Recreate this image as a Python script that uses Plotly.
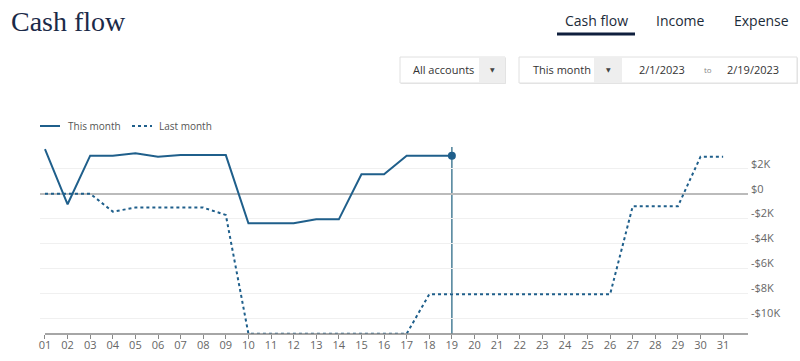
import plotly.graph_objects as go

days = list(range(1, 32))
day_labels = [f"{d:02d}" for d in days]

this_month_days = list(range(1, 20))
this_month = [3570, -850, 3050, 3050, 3240, 2970, 3100, 3100, 3100,
              -2380, -2380, -2380, -2060, -2060, 1560, 1560, 3050, 3050, 3050]

last_month = [0, 0, 0, -1440, -1120, -1120, -1120, -1120, -1710,
              -11250, -11250, -11250, -11250, -11250, -11250, -11250, -11250,
              -8080, -8080, -8080, -8080, -8080, -8080, -8080, -8080, -8080,
              -1010, -1010, -1010, 2970, 2970]

y_tickvals = [2000, 0, -2000, -4000, -6000, -8000, -10000]
y_ticktext = ["$2K", "$0", "-$2K", "-$4K", "-$6K", "-$8K", "-$10K"]

LINE = "#1f5f8b"
W, H = 800, 361
ML, MR, MT, MB = 40, 52, 144, 27
PW, PH = W - ML - MR, H - MT - MB


def px(x):
    return (x - ML) / PW


def py(y):
    return (H - MB - y) / PH


fig = go.Figure()
fig.add_trace(go.Scatter(x=days, y=last_month, mode="lines", name="Last month",
                         line=dict(color=LINE, width=2, dash="dot"), showlegend=False))
fig.add_trace(go.Scatter(x=this_month_days, y=this_month, mode="lines", name="This month",
                         line=dict(color=LINE, width=2), showlegend=False))
fig.add_trace(go.Scatter(x=[this_month_days[-1]], y=[this_month[-1]], mode="markers",
                         marker=dict(color=LINE, size=8), showlegend=False))

shapes = []
annotations = []

# crosshair
shapes.append(dict(type="line", xref="x", yref="paper", x0=this_month_days[-1], x1=this_month_days[-1],
                   y0=0, y1=py(147), line=dict(color="#4a7f98", width=1.5), layer="below"))
# x axis line
shapes.append(dict(type="line", xref="x", yref="paper", x0=1, x1=32.1, y0=0, y1=0,
                   line=dict(color="#888", width=1.5)))

# title
annotations.append(dict(text="Cash flow", xref="paper", yref="paper", x=px(9), y=py(21),
                        xanchor="left", yanchor="middle", showarrow=False,
                        font=dict(family="Liberation Serif", size=28, color="#1b2a48")))
# tabs
for t, cx in [("Cash flow", 596), ("Income", 680), ("Expense", 761)]:
    annotations.append(dict(text=t, xref="paper", yref="paper", x=px(cx), y=py(20),
                            xanchor="center", yanchor="middle", showarrow=False,
                            font=dict(family="Open Sans", size=14, color="#1c2b39")))
shapes.append(dict(type="line", xref="paper", yref="paper", x0=px(557), x1=px(635),
                   y0=py(34), y1=py(34), line=dict(color="#0f1f3d", width=3)))

# dropdown boxes
for (x0, x1) in [(400, 505), (519, 797)]:
    shapes.append(dict(type="rect", xref="paper", yref="paper", x0=px(x0 + 1), x1=px(x1 + 1),
                       y0=py(84), y1=py(58), line=dict(width=0), fillcolor="#e6e6e6"))
    shapes.append(dict(type="rect", xref="paper", yref="paper", x0=px(x0), x1=px(x1),
                       y0=py(83), y1=py(57), line=dict(color="#e0e0e0", width=1), fillcolor="white"))
for (x0, x1) in [(479, 505), (594, 622)]:
    shapes.append(dict(type="rect", xref="paper", yref="paper", x0=px(x0), x1=px(x1),
                       y0=py(83), y1=py(57), line=dict(width=0), fillcolor="#eeeeee"))
for cx in [492, 608]:
    annotations.append(dict(text="▼", xref="paper", yref="paper", x=px(cx), y=py(70),
                            xanchor="center", yanchor="middle", showarrow=False,
                            font=dict(family="DejaVu Sans", size=6, color="#444")))
for t, x, anc, sz, col in [("All accounts", 411, "left", 11, "#333"),
                           ("This month", 531, "left", 11, "#333"),
                           ("2/1/2023", 662, "center", 11, "#333"),
                           ("to", 708, "center", 8, "#888"),
                           ("2/19/2023", 753, "center", 11, "#333")]:
    annotations.append(dict(text=t, xref="paper", yref="paper", x=px(x), y=py(70),
                            xanchor=anc, yanchor="middle", showarrow=False,
                            font=dict(family="Open Sans", size=sz, color=col)))

# legend
shapes.append(dict(type="line", xref="paper", yref="paper", x0=px(40), x1=px(60),
                   y0=py(126), y1=py(126), line=dict(color=LINE, width=2)))
shapes.append(dict(type="line", xref="paper", yref="paper", x0=px(132), x1=px(152),
                   y0=py(126), y1=py(126), line=dict(color=LINE, width=2, dash="dot")))
for t, x in [("This month", 66), ("Last month", 157)]:
    annotations.append(dict(text=t, xref="paper", yref="paper", x=px(x), y=py(126),
                            xanchor="left", yanchor="middle", showarrow=False,
                            font=dict(family="Open Sans", size=10, color="#555")))

fig.update_layout(
    width=W, height=H,
    margin=dict(l=ML, r=MR, t=MT, b=MB),
    paper_bgcolor="white", plot_bgcolor="white",
    shapes=shapes, annotations=annotations,
    showlegend=False,
    xaxis=dict(range=[0.78, 32.1], tickvals=days, ticktext=day_labels, automargin=False,
               showgrid=False, zeroline=False, showline=False,
               ticks="outside", ticklen=4, tickcolor="#888", tickwidth=1,
               ticklabelstandoff=-3,
               tickfont=dict(family="Open Sans", size=11, color="#666")),
    yaxis=dict(range=[-11270, 3990], side="right", tickvals=y_tickvals, ticktext=y_ticktext,
               automargin=False,
               showgrid=True, gridcolor="#f0f0f0", gridwidth=1,
               zeroline=True, zerolinecolor="#bbbbbb", zerolinewidth=2,
               showline=False, ticks="", ticklabelshift=-5, ticklabelstandoff=2,
               tickfont=dict(family="Open Sans", size=11, color="#666")),
)

fig.write_html("out.html", config={"displayModeBar": False},
               post_script="document.body.style.margin='0';document.body.style.overflow='hidden';")
